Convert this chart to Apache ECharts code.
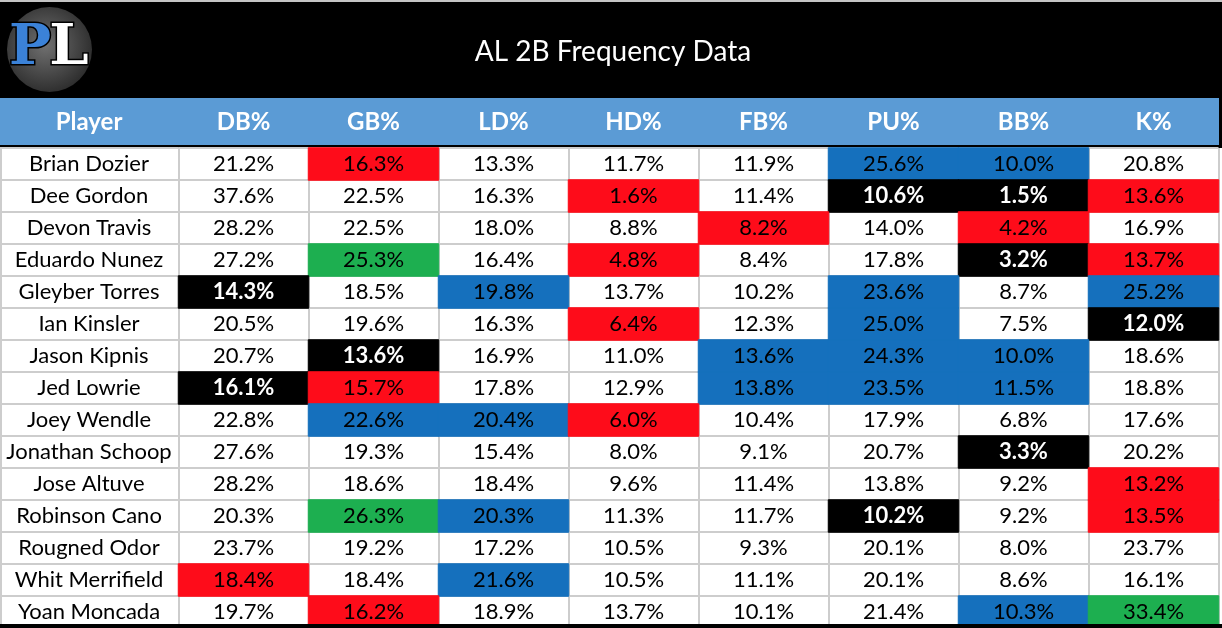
<!DOCTYPE html>
<html>
<head>
<meta charset="utf-8">
<title>AL 2B Frequency Data</title>
<script src="https://cdn.jsdelivr.net/npm/echarts@6/dist/echarts.min.js"></script>
<style>
    html, body { margin: 0; padding: 0; background: #fff; }
    #main { width: 1222px; height: 628px; }
</style>
</head>
<body>
<div id="main"></div>
<script>
// 数据
var title = 'AL 2B Frequency Data';
var players = ['Brian Dozier', 'Dee Gordon', 'Devon Travis', 'Eduardo Nunez', 'Gleyber Torres',
    'Ian Kinsler', 'Jason Kipnis', 'Jed Lowrie', 'Joey Wendle', 'Jonathan Schoop',
    'Jose Altuve', 'Robinson Cano', 'Rougned Odor', 'Whit Merrifield', 'Yoan Moncada'];
var columns = ['DB%', 'GB%', 'LD%', 'HD%', 'FB%', 'PU%', 'BB%', 'K%'];

var dbPct = [21.2, 37.6, 28.2, 27.2, 14.3, 20.5, 20.7, 16.1, 22.8, 27.6, 28.2, 20.3, 23.7, 18.4, 19.7];
var gbPct = [16.3, 22.5, 22.5, 25.3, 18.5, 19.6, 13.6, 15.7, 22.6, 19.3, 18.6, 26.3, 19.2, 18.4, 16.2];
var ldPct = [13.3, 16.3, 18.0, 16.4, 19.8, 16.3, 16.9, 17.8, 20.4, 15.4, 18.4, 20.3, 17.2, 21.6, 18.9];
var hdPct = [11.7, 1.6, 8.8, 4.8, 13.7, 6.4, 11.0, 12.9, 6.0, 8.0, 9.6, 11.3, 10.5, 10.5, 13.7];
var fbPct = [11.9, 11.4, 8.2, 8.4, 10.2, 12.3, 13.6, 13.8, 10.4, 9.1, 11.4, 11.7, 9.3, 11.1, 10.1];
var puPct = [25.6, 10.6, 14.0, 17.8, 23.6, 25.0, 24.3, 23.5, 17.9, 20.7, 13.8, 10.2, 20.1, 20.1, 21.4];
var bbPct = [10.0, 1.5, 4.2, 3.2, 8.7, 7.5, 10.0, 11.5, 6.8, 3.3, 9.2, 9.2, 8.0, 8.6, 10.3];
var kPct = [20.8, 13.6, 16.9, 13.7, 25.2, 12.0, 18.6, 18.8, 17.6, 20.2, 13.2, 13.5, 23.7, 16.1, 33.4];

// 每行的标记: r=红 b=蓝 k=黑 g=绿 .=无
var flags = ['.r...bb.', '...r.kkr', '....r.r.', '.g.r..kr', 'k.b..b.b',
    '...r.b.k', '.k..bbb.', 'kr..bbb.', '.bbr....', '......k.',
    '.......r', '.gb..k.r', '........', 'r.b.....', '.r....bg'];

var colValues = [dbPct, gbPct, ldPct, hdPct, fbPct, puPct, bbPct, kPct];
var flagColor = { r: '#fe0c1a', b: '#1570bd', k: '#000000', g: '#1daf50' };
var gridGray = '#cdcdcd';
var font = 'Lato';

// 组装热力图数据
var cells = [];
for (var r = 0; r < players.length; r++) {
    for (var c = 0; c < columns.length; c++) {
        var f = flags[r].charAt(c);
        var item = { value: [c, r, colValues[c][r]] };
        if (f !== '.') {
            item.itemStyle = { color: flagColor[f], borderColor: flagColor[f], borderWidth: 1 };
        } else {
            item.itemStyle = { color: 'rgba(0,0,0,0)', borderWidth: 0 };
        }
        if (f === 'k') {
            item.label = { color: '#fff', fontWeight: 'bold' };
        }
        cells.push(item);
    }
}

var mycharts = echarts.init(document.getElementById('main'));
var option = {
    animation: false,
    backgroundColor: '#fff',
    grid: {
        left: 178.5,
        right: 3.5,
        top: 148,
        height: 480
    },
    xAxis: {
        type: 'category',
        position: 'top',
        data: columns,
        axisLine: { show: false },
        axisTick: { show: false },
        axisLabel: {
            color: '#fff',
            fontFamily: font,
            fontWeight: 'bold',
            fontSize: 24,
            margin: 26,
            verticalAlign: 'middle',
            interval: 0
        },
        splitLine: {
            show: true,
            interval: 0,
            lineStyle: { color: gridGray, width: 2 }
        }
    },
    yAxis: {
        type: 'category',
        inverse: true,
        data: players,
        axisLine: { show: true, lineStyle: { color: gridGray, width: 2 } },
        // 刻度线延长到左边, 当作姓名列的横线
        axisTick: {
            show: true,
            interval: 0,
            length: 178.5,
            lineStyle: { color: gridGray, width: 2 }
        },
        axisLabel: {
            color: '#000',
            fontFamily: font,
            fontSize: 22,
            align: 'center',
            margin: 89.5,
            interval: 0
        },
        splitLine: {
            show: true,
            interval: 0,
            lineStyle: { color: gridGray, width: 2 }
        }
    },
    series: [{
        type: 'heatmap',
        data: cells,
        label: {
            show: true,
            color: '#000',
            fontFamily: font,
            fontSize: 22,
            formatter: function (p) {
                return p.value[2].toFixed(1) + '%';
            }
        },
        emphasis: { disabled: true }
    }],
    graphic: [
        // 顶部灰线
        { type: 'rect', shape: { x: 0, y: 0, width: 1222, height: 2 }, style: { fill: '#c4c4c4' } },
        // 黑色标题栏
        { type: 'rect', shape: { x: 0, y: 2, width: 1222, height: 96 }, style: { fill: '#000' } },
        // 蓝色表头
        { type: 'rect', shape: { x: 0, y: 98, width: 1219, height: 47 }, style: { fill: '#5b9bd5' } },
        { type: 'rect', shape: { x: 1219, y: 98, width: 3, height: 47 }, style: { fill: '#000' } },
        { type: 'rect', shape: { x: 0, y: 145, width: 1222, height: 3 }, style: { fill: '#000' } },
        // 左边线 & 底部黑线
        { type: 'rect', shape: { x: 0, y: 148, width: 2, height: 480 }, style: { fill: gridGray } },
        { type: 'rect', z: 100, shape: { x: 0, y: 624, width: 1222, height: 4 }, style: { fill: '#000' } },
        // 标题
        {
            type: 'text', x: 613, y: 52,
            style: {
                text: title, fill: '#fff', font: '28px ' + font,
                textAlign: 'center', textVerticalAlign: 'middle'
            }
        },
        {
            type: 'text', x: 89, y: 122,
            style: {
                text: 'Player', fill: '#fff', font: 'bold 24px ' + font,
                textAlign: 'center', textVerticalAlign: 'middle'
            }
        },
        // logo
        {
            type: 'circle', shape: { cx: 49.5, cy: 49.5, r: 42.5 },
            style: {
                fill: new echarts.graphic.RadialGradient(0.45, 0.45, 0.6, [
                    { offset: 0, color: '#707070' },
                    { offset: 1, color: '#2a2a2a' }
                ])
            }
        },
        {
            type: 'text', x: 30, y: 49,
            style: {
                text: 'P', fill: '#3b82d8', stroke: '#000', lineWidth: 3,
                font: 'bold 56px "DejaVu Serif"', textAlign: 'center', textVerticalAlign: 'middle'
            }
        },
        {
            type: 'text', x: 69, y: 49,
            style: {
                text: 'L', fill: '#fff', stroke: '#000', lineWidth: 3,
                font: 'bold 56px "DejaVu Serif"', textAlign: 'center', textVerticalAlign: 'middle'
            }
        }
    ]
};
mycharts.setOption(option);
window.addEventListener('resize', function () {
    mycharts.resize();
});
</script>
</body>
</html>
